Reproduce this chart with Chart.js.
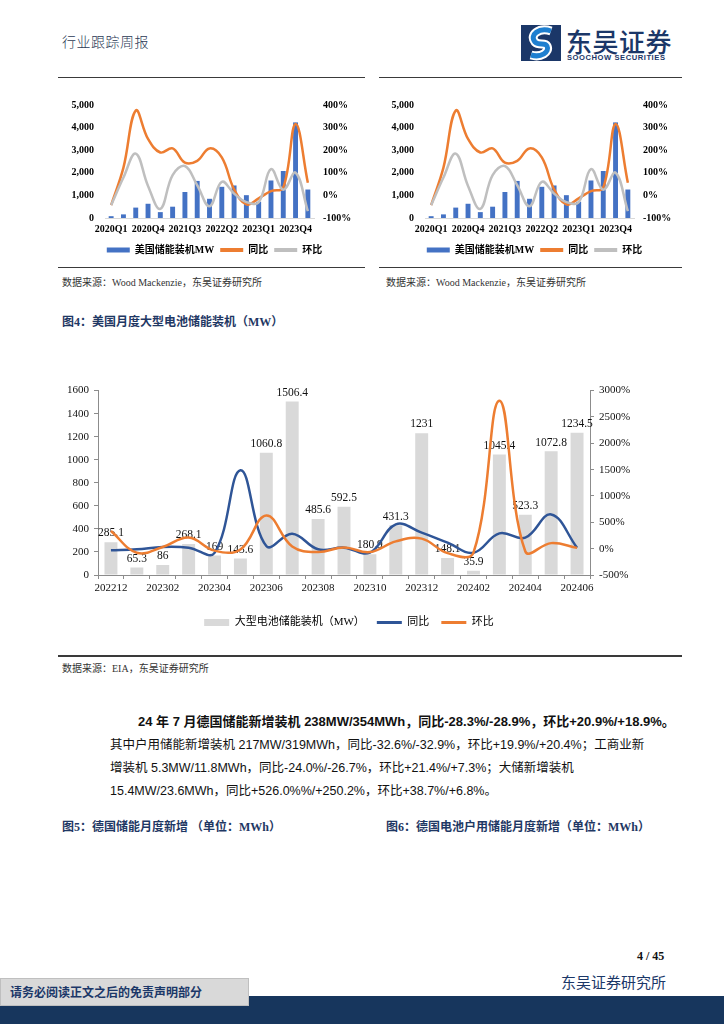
<!DOCTYPE html>
<html>
<head>
<meta charset="utf-8">
<script src="https://cdn.jsdelivr.net/npm/chart.js@4.4.1/dist/chart.umd.min.js"></script>
<style>
body { margin:0; width:724px; height:1024px; position:relative; background:#fff; overflow:hidden;
       font-family:"Liberation Serif","Noto Sans CJK SC",serif; color:#111; }
.abs { position:absolute; white-space:nowrap; }
.rule { position:absolute; height:0; border-top:1.6px solid #3a3a3a; }
.src { font-size:10px; color:#333; }
.fig { font-size:12px; font-weight:bold; color:#1F3864; }
.para { font-family:"Liberation Sans","Noto Sans CJK SC",sans-serif; font-size:12.5px; color:#111; }
.box { position:absolute; }
</style>
</head>
<body>

<!-- header -->
<div class="abs" style="left:62px;top:31px;font-size:14px;color:#2b3a55;font-family:'Noto Sans CJK SC';font-weight:300;letter-spacing:0.5px">行业跟踪周报</div>
<svg class="abs" style="left:521px;top:25px" width="40" height="36" viewBox="0 0 40 36">
  <rect x="0" y="0" width="40" height="36" fill="#1B3768"/>
  <path d="M30 6 C18 2 8 10 14 17 C18 21 24 17 26 21 C29 27 20 33 10 30" fill="none" stroke="#fff" stroke-width="9"/>
  <path d="M30 6 C18 2 8 10 14 17 C18 21 24 17 26 21 C29 27 20 33 10 30" fill="none" stroke="#1E7FD0" stroke-width="5"/>
</svg>
<div class="abs" style="left:566px;top:22px;font-size:26px;color:#1B3768;font-family:'Noto Sans CJK SC';font-weight:500;letter-spacing:0.5px">东吴证券</div>
<div class="abs" style="left:567px;top:53px;font-size:7.6px;color:#1B3768;font-family:'Liberation Sans';font-weight:bold;letter-spacing:0.55px">SOOCHOW SECURITIES</div>
<div class="rule" style="left:58px;top:77px;width:307px"></div>
<div class="rule" style="left:379px;top:77px;width:303px"></div>

<!-- two quarterly charts -->
<div class="box" style="left:62px;top:88px;width:305px;height:177px"><canvas id="q1"></canvas></div>
<div class="box" style="left:382px;top:88px;width:305px;height:177px"><canvas id="q2"></canvas></div>
<div class="rule" style="left:58px;top:267px;width:307px"></div>
<div class="rule" style="left:379px;top:267px;width:303px"></div>
<div class="abs src" style="left:62px;top:274px">数据来源：Wood Mackenzie，东吴证券研究所</div>
<div class="abs src" style="left:386px;top:274px">数据来源：Wood Mackenzie，东吴证券研究所</div>

<!-- figure 4 -->
<div class="abs fig" style="left:62px;top:312px">图4：美国月度大型电池储能装机（MW）</div>
<div class="box" style="left:28px;top:379px;width:642px;height:259px"><canvas id="monthly"></canvas></div>
<div class="rule" style="left:58px;top:655px;width:624px;border-top-width:2px"></div>
<div class="abs src" style="left:62px;top:660px">数据来源：EIA，东吴证券研究所</div>

<!-- paragraph -->
<div class="abs para" style="left:138px;top:711px;font-weight:bold;font-size:13px">24 年 7 月德国储能新增装机 238MW/354MWh，同比-28.3%/-28.9%，环比+20.9%/+18.9%。</div>
<div class="abs para" style="left:110px;top:734px">其中户用储能新增装机 217MW/319MWh，同比-32.6%/-32.9%，环比+19.9%/+20.4%；工商业新</div>
<div class="abs para" style="left:110px;top:757px">增装机 5.3MW/11.8MWh，同比-24.0%/-26.7%，环比+21.4%/+7.3%；大储新增装机</div>
<div class="abs para" style="left:110px;top:780px">15.4MW/23.6MWh，同比+526.0%%/+250.2%，环比+38.7%/+6.8%。</div>

<div class="abs fig" style="left:62px;top:817px">图5：德国储能月度新增 （单位：MWh）</div>
<div class="abs fig" style="left:386px;top:817px">图6：德国电池户用储能月度新增（单位：MWh）</div>

<!-- footer -->
<div class="abs" style="left:637px;top:949px;font-size:12px;font-weight:bold">4 / 45</div>
<div class="abs" style="left:561px;top:971px;font-size:15px;color:#1B3768;font-family:'Noto Sans CJK SC'">东吴证券研究所</div>
<div class="box" style="left:0;top:996px;width:724px;height:28px;background:#17365D"></div>
<div class="box" style="left:0;top:978px;width:247px;height:26px;background:#D9D9D9;border:1px solid #bfbfbf"></div>
<div class="abs" style="left:10px;top:983px;font-size:12px;color:#1B3768;font-family:'Noto Sans CJK SC';font-weight:bold">请务必阅读正文之后的免责声明部分</div>

<script>
// quarterly US storage installs (Wood Mackenzie)
var quarters = ['2020Q1','2020Q2','2020Q3','2020Q4','2021Q1','2021Q2','2021Q3','2021Q4','2022Q1','2022Q2','2022Q3','2022Q4','2023Q1','2023Q2','2023Q3','2023Q4','2024Q1'];
var usInstallMW = [80, 160, 460, 630, 260, 500, 1150, 1640, 850, 1380, 1440, 1010, 720, 1660, 2080, 4230, 1260];
var usYoY = [-43, 123, 375, 250, 190, 208, 145, 153, 208, 168, 27, -40, -13, 19, 34, 316, 56];
var usQoQ = [-43, 79, 185, 42, -60, 90, 130, 45, -48, 60, 8, -30, -30, 116, 25, 101, -70];

// monthly US large battery installs (EIA)
var months = ['202212','202301','202302','202303','202304','202305','202306','202307','202308','202309','202310','202311','202312','202401','202402','202403','202404','202405','202406'];
var largeBatteryMW = [285.1, 65.3, 86, 268.1, 169, 143.6, 1060.8, 1506.4, 485.6, 592.5, 180.9, 431.3, 1231, 148.1, 35.9, 1045.4, 523.3, 1072.8, 1234.5];
var monthYoY = [-32, -13, 32, 19, -80, 1488, 50, 284, -12, 19, -75, 461, 303, 113, -76, 290, 208, 650, 19];
var monthMoM = [334, -77, 32, 212, -37, -15, 631, 42, -65, 22, -65, 138, 190, -85, -76, 2806, -50, 105, 15];

var serif = "'Liberation Serif', 'Noto Sans CJK SC', serif";

function quarterChart(id) {
    var ctx = document.getElementById(id).getContext('2d');
    return new Chart(ctx, {
        type: 'bar',
        data: {
            labels: quarters,
            datasets: [{
                label: '美国储能装机MW',
                data: usInstallMW,
                backgroundColor: '#4472C4',
                yAxisID: 'y',
                order: 2,
                categoryPercentage: 1,
                barPercentage: 0.4
            }, {
                type: 'line',
                label: '同比',
                data: usYoY,
                borderColor: '#ED7D31',
                backgroundColor: '#ED7D31',
                borderWidth: 2.5,
                pointRadius: 0,
                tension: 0.4,
                yAxisID: 'y1',
                order: 1
            }, {
                type: 'line',
                label: '环比',
                data: usQoQ,
                borderColor: '#BFBFBF',
                backgroundColor: '#BFBFBF',
                borderWidth: 2.5,
                pointRadius: 0,
                tension: 0.4,
                yAxisID: 'y1',
                order: 0
            }]
        },
        options: {
            responsive: true,
            maintainAspectRatio: false,
            animation: false,
            layout: { padding: { top: 4 } },
            plugins: {
                tooltip: { enabled: false },
                legend: {
                    position: 'bottom',
                    labels: {
                        usePointStyle: true,
                        pointStyleWidth: 23,
                        boxHeight: 5,
                        padding: 6,
                        color: '#000',
                        font: { family: serif, size: 10, weight: 'bold' },
                        generateLabels: function (chart) {
                            return chart.data.datasets.map(function (ds, i) {
                                return {
                                    text: ds.label,
                                    fillStyle: ds.backgroundColor,
                                    strokeStyle: i === 0 ? ds.backgroundColor : ds.borderColor,
                                    lineWidth: i === 0 ? 0 : 4,
                                    pointStyle: i === 0 ? 'rect' : 'line',
                                    datasetIndex: i
                                };
                            });
                        }
                    }
                }
            },
            scales: {
                x: {
                    afterFit: function (s) { s.height = 21; },
                    grid: { display: false, drawTicks: false },
                    border: { display: true, color: '#D9D9D9', width: 1 },
                    ticks: {
                        autoSkip: false, maxRotation: 0, padding: 5, color: '#000',
                        font: { family: serif, size: 10, weight: 'bold' },
                        callback: function (v, i) { return i % 3 === 0 ? quarters[i] : ''; }
                    }
                },
                y: {
                    position: 'left',
                    min: 0, max: 5000,
                    afterFit: function (s) { s.width = 43; },
                    grid: { display: false, drawTicks: false },
                    border: { display: false },
                    ticks: {
                        stepSize: 1000, padding: 11, color: '#000',
                        font: { family: serif, size: 10, weight: 'bold' },
                        callback: function (v) { return v.toLocaleString('en-US'); }
                    }
                },
                y1: {
                    position: 'right',
                    min: -100, max: 400,
                    afterFit: function (s) { s.width = 53; },
                    grid: { display: false, drawTicks: false },
                    border: { display: false },
                    ticks: {
                        stepSize: 100, padding: 9, color: '#000',
                        font: { family: serif, size: 10, weight: 'bold' },
                        callback: function (v) { return v + '%'; }
                    }
                }
            }
        }
    });
}

quarterChart('q1');
quarterChart('q2');

// value labels over the grey bars, drawn before the lines go on top
var barValueLabels = {
    id: 'barValueLabels',
    afterDatasetDraw: function (chart, args) {
        if (args.index !== 0) return;
        var ctx = chart.ctx;
        ctx.save();
        ctx.font = "11.5px 'Liberation Serif'";
        ctx.fillStyle = '#111';
        ctx.textAlign = 'center';
        ctx.textBaseline = 'bottom';
        args.meta.data.forEach(function (bar, i) {
            ctx.fillText(String(largeBatteryMW[i]), bar.x, bar.y - 3);
        });
        ctx.restore();
    }
};

var mctx = document.getElementById('monthly').getContext('2d');
var monthlyChart = new Chart(mctx, {
    type: 'bar',
    data: {
        labels: months,
        datasets: [{
            label: '大型电池储能装机（MW）',
            data: largeBatteryMW,
            backgroundColor: '#D9D9D9',
            yAxisID: 'y',
            order: 2,
            categoryPercentage: 1,
            barPercentage: 0.5
        }, {
            type: 'line',
            label: '同比',
            data: monthYoY,
            borderColor: '#2F5597',
            backgroundColor: '#2F5597',
            borderWidth: 2.5,
            pointRadius: 0,
            tension: 0.4,
            yAxisID: 'y1',
            order: 1
        }, {
            type: 'line',
            label: '环比',
            data: monthMoM,
            borderColor: '#ED7D31',
            backgroundColor: '#ED7D31',
            borderWidth: 2.5,
            pointRadius: 0,
            tension: 0.4,
            yAxisID: 'y1',
            order: 0
        }]
    },
    options: {
        responsive: true,
        maintainAspectRatio: false,
        animation: false,
        layout: { padding: { top: 10 } },
        plugins: {
            tooltip: { enabled: false },
            legend: {
                position: 'bottom',
                labels: {
                    usePointStyle: true,
                    pointStyleWidth: 25,
                    boxHeight: 7,
                    padding: 12,
                    color: '#222',
                    font: { family: serif, size: 11 },
                    generateLabels: function (chart) {
                        return chart.data.datasets.map(function (ds, i) {
                            return {
                                text: ds.label,
                                fillStyle: ds.backgroundColor,
                                strokeStyle: i === 0 ? ds.backgroundColor : ds.borderColor,
                                lineWidth: i === 0 ? 0 : 3,
                                pointStyle: i === 0 ? 'rect' : 'line',
                                datasetIndex: i
                            };
                        });
                    }
                }
            }
        },
        scales: {
            x: {
                afterFit: function (s) { s.height = 30; },
                grid: { display: true, drawOnChartArea: false, drawTicks: true, tickLength: 4, color: '#8c8c8c' },
                border: { display: true, color: '#8c8c8c', width: 1 },
                ticks: {
                    autoSkip: false, maxRotation: 0, padding: 3, color: '#111',
                    font: { family: serif, size: 11 },
                    callback: function (v, i) { return i % 2 === 0 ? months[i] : ''; }
                }
            },
            y: {
                position: 'left',
                min: 0, max: 1600,
                afterFit: function (s) { s.width = 70; },
                grid: { display: true, drawOnChartArea: false, drawTicks: true, tickLength: 4, color: '#8c8c8c' },
                border: { display: true, color: '#8c8c8c', width: 1 },
                ticks: {
                    stepSize: 200, padding: 5, color: '#111',
                    font: { family: serif, size: 11 },
                    callback: function (v) { return String(v); }
                }
            },
            y1: {
                position: 'right',
                min: -500, max: 3000,
                afterFit: function (s) { s.width = 80; },
                grid: { display: true, drawOnChartArea: false, drawTicks: true, tickLength: 4, color: '#8c8c8c' },
                border: { display: true, color: '#8c8c8c', width: 1 },
                ticks: {
                    stepSize: 500, padding: 5, color: '#111',
                    font: { family: serif, size: 11 },
                    callback: function (v) { return v + '%'; }
                }
            }
        }
    },
    plugins: [barValueLabels]
});
</script>
</body>
</html>
